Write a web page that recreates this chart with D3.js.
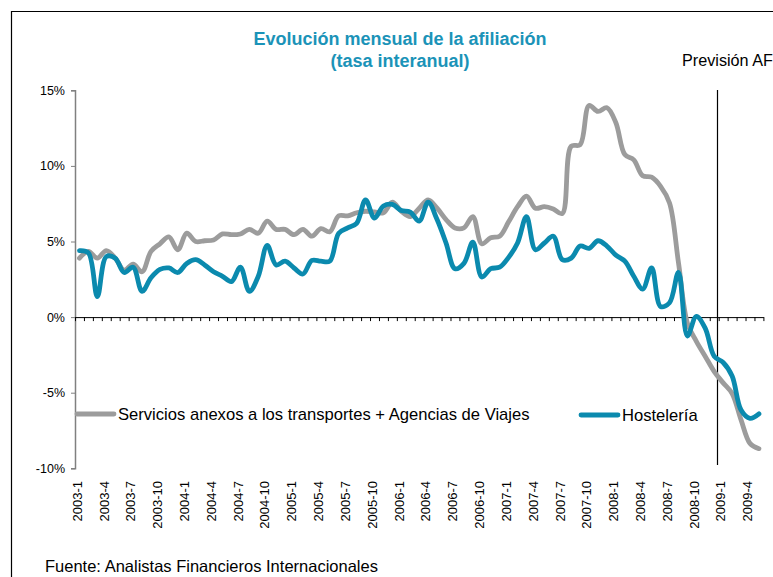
<!DOCTYPE html>
<html>
<head>
<meta charset="utf-8">
<script src="https://cdn.jsdelivr.net/npm/d3@7"></script>
<style>
  html, body { margin: 0; padding: 0; background: #fff; }
  svg { display: block; }
  text { font-family: "Liberation Sans", Arial, sans-serif; }
</style>
</head>
<body>
<svg id="chart" width="773" height="577"></svg>
<script>
// Monthly categories, 2003-1 .. 2009-5
const months = [
  "2003-1","2003-2","2003-3","2003-4","2003-5","2003-6","2003-7","2003-8","2003-9","2003-10","2003-11","2003-12",
  "2004-1","2004-2","2004-3","2004-4","2004-5","2004-6","2004-7","2004-8","2004-9","2004-10","2004-11","2004-12",
  "2005-1","2005-2","2005-3","2005-4","2005-5","2005-6","2005-7","2005-8","2005-9","2005-10","2005-11","2005-12",
  "2006-1","2006-2","2006-3","2006-4","2006-5","2006-6","2006-7","2006-8","2006-9","2006-10","2006-11","2006-12",
  "2007-1","2007-2","2007-3","2007-4","2007-5","2007-6","2007-7","2007-8","2007-9","2007-10","2007-11","2007-12",
  "2008-1","2008-2","2008-3","2008-4","2008-5","2008-6","2008-7","2008-8","2008-9","2008-10","2008-11","2008-12",
  "2009-1","2009-2","2009-3","2009-4","2009-5"
];

// Labels shown on the category axis (every quarter)
const monthLabels = [
  "2003-1","2003-4","2003-7","2003-10","2004-1","2004-4","2004-7","2004-10",
  "2005-1","2005-4","2005-7","2005-10","2006-1","2006-4","2006-7","2006-10",
  "2007-1","2007-4","2007-7","2007-10","2008-1","2008-4","2008-7","2008-10",
  "2009-1","2009-4"
];

// Year-on-year growth of affiliation (%)
const serviciosTransporte = [
  3.9, 4.35, 3.9, 4.4, 3.9, 3.1, 3.5, 3.0, 4.35, 4.85, 5.3, 4.45,
  5.55, 5.0, 5.05, 5.1, 5.5, 5.45, 5.5, 5.8, 5.55, 6.35, 5.8, 5.8,
  5.45, 5.8, 5.35, 5.85, 5.65, 6.7, 6.7, 6.9, 7.0, 6.95, 6.9, 7.6,
  7.0, 6.65, 7.2, 7.75, 7.2, 6.45, 5.9, 5.9, 6.65, 4.85, 5.25, 5.35,
  6.3, 7.3, 8.0, 7.2, 7.3, 7.15, 6.85, 11.3, 11.4, 14.0, 13.6, 13.85,
  12.85, 10.75, 10.4, 9.35, 9.25, 8.65, 7.55, 3.6, -0.4, -1.6, -2.6, -3.6,
  -4.35, -5.05, -6.8, -8.35, -8.7
];

const hosteleria = [
  4.4, 4.25, 1.35, 4.0, 3.9, 2.95, 3.3, 1.7, 2.6, 3.15, 3.25, 2.95,
  3.55, 3.8, 3.45, 3.0, 2.7, 2.35, 3.3, 1.7, 2.7, 4.75, 3.45, 3.7,
  3.25, 2.85, 3.75, 3.7, 3.7, 5.55, 5.9, 6.2, 7.75, 6.55, 7.35, 7.45,
  7.05, 6.95, 6.35, 7.6, 6.45, 4.9, 3.2, 3.55, 4.95, 2.65, 3.2, 3.3,
  3.95, 4.9, 6.65, 4.45, 4.9, 5.35, 3.8, 3.9, 4.7, 4.55, 5.05, 4.7,
  4.1, 3.7, 2.7, 1.85, 3.25, 0.7, 0.95, 2.95, -1.25, 0.05, -0.75, -2.6,
  -3.0, -3.9, -6.15, -6.7, -6.4
];

const yTicks = [-10, -5, 0, 5, 10, 15];

const seriesNames = [
  "Servicios anexos a los transportes + Agencias de Viajes",
  "Hostelería"
];

const GREY = "#9c9c9c";
const TEAL = "#0b8aae";

const svg = d3.select("#chart");

// Outer frame (top and left edges visible)
svg.append("path")
  .attr("d", "M11.5,577V11.5H773")
  .attr("fill", "none")
  .attr("stroke", "#000")
  .attr("stroke-width", 1.2);

// Title
svg.append("text")
  .attr("x", 400).attr("y", 45)
  .attr("text-anchor", "middle")
  .attr("fill", "#1b93b8")
  .attr("font-weight", "bold")
  .attr("font-size", 18)
  .text("Evolución mensual de la afiliación");
svg.append("text")
  .attr("x", 400).attr("y", 67)
  .attr("text-anchor", "middle")
  .attr("fill", "#1b93b8")
  .attr("font-weight", "bold")
  .attr("font-size", 18)
  .text("(tasa interanual)");

// Scales
const x = d3.scaleBand().domain(months).range([75, 763.4]).paddingInner(0).paddingOuter(0);
const xEdge = d3.scaleLinear().domain([0, months.length]).range([75, 763.4]);
const y = d3.scaleLinear().domain([-10, 15]).range([468.3, 90.3]);
const cx = m => x(m) + x.bandwidth() / 2;

// Y axis
const yAxis = svg.append("g")
  .attr("transform", "translate(75,0)")
  .call(d3.axisLeft(y).tickValues(yTicks).tickSize(4).tickPadding(6).tickFormat(d => d + "%"));
yAxis.select(".domain").attr("stroke", "#808080").attr("stroke-width", 1.5);
yAxis.selectAll(".tick line").attr("stroke", "#808080");
yAxis.selectAll(".tick text")
  .attr("font-size", 12.5)
  .attr("fill", "#000")
  .style("font-family", "'Liberation Sans', Arial, sans-serif");

// Zero line with category tick marks
const xAxis = svg.append("g")
  .attr("transform", `translate(0,${y(0)})`)
  .call(d3.axisBottom(xEdge).tickValues(d3.range(months.length + 1)).tickSize(4).tickSizeOuter(0).tickFormat(""));
xAxis.select(".domain").attr("stroke", "#000");
xAxis.selectAll(".tick line").attr("stroke", "#000");

// Category labels, rotated
svg.append("g").selectAll("text")
  .data(monthLabels)
  .join("text")
  .attr("transform", d => `translate(${cx(d) - 2.3},481) rotate(-90)`)
  .attr("text-anchor", "end")
  .attr("dy", "0.35em")
  .attr("font-size", 13)
  .attr("fill", "#000")
  .text(d => d);

// Forecast divider and its caption
svg.append("line")
  .attr("x1", 717.5).attr("x2", 717.5)
  .attr("y1", 90).attr("y2", 465)
  .attr("stroke", "#000").attr("stroke-width", 1.2);
svg.append("text")
  .attr("x", 682).attr("y", 66)
  .attr("font-size", 16.2)
  .attr("fill", "#000")
  .text("Previsión AF");

// Lines
const line = d3.line()
  .x((d, i) => cx(months[i]))
  .y(d => y(d))
  .curve(d3.curveCatmullRom.alpha(0.5));

svg.append("path")
  .datum(serviciosTransporte)
  .attr("d", line)
  .attr("fill", "none")
  .attr("stroke", GREY)
  .attr("stroke-width", 4.8)
  .attr("stroke-linejoin", "round")
  .attr("stroke-linecap", "round");

svg.append("path")
  .datum(hosteleria)
  .attr("d", line)
  .attr("fill", "none")
  .attr("stroke", TEAL)
  .attr("stroke-width", 4.8)
  .attr("stroke-linejoin", "round")
  .attr("stroke-linecap", "round");

// Legend
const legend = [
  { name: seriesNames[0], color: GREY, x: 77, y: 414 },
  { name: seriesNames[1], color: TEAL, x: 581, y: 415 }
];
const lg = svg.append("g").selectAll("g").data(legend).join("g")
  .attr("transform", d => `translate(${d.x},${d.y})`);
lg.append("line")
  .attr("x1", 0).attr("x2", 37).attr("y1", 0).attr("y2", 0)
  .attr("stroke", d => d.color)
  .attr("stroke-width", 4.8)
  .attr("stroke-linecap", "round");
lg.append("text")
  .attr("x", 41).attr("y", 0).attr("dy", "0.36em")
  .attr("font-size", 16.6)
  .attr("fill", "#000")
  .text(d => d.name);

// Source
svg.append("text")
  .attr("x", 45).attr("y", 572)
  .attr("font-size", 16.5)
  .attr("fill", "#000")
  .text("Fuente: Analistas Financieros Internacionales");
</script>
</body>
</html>
